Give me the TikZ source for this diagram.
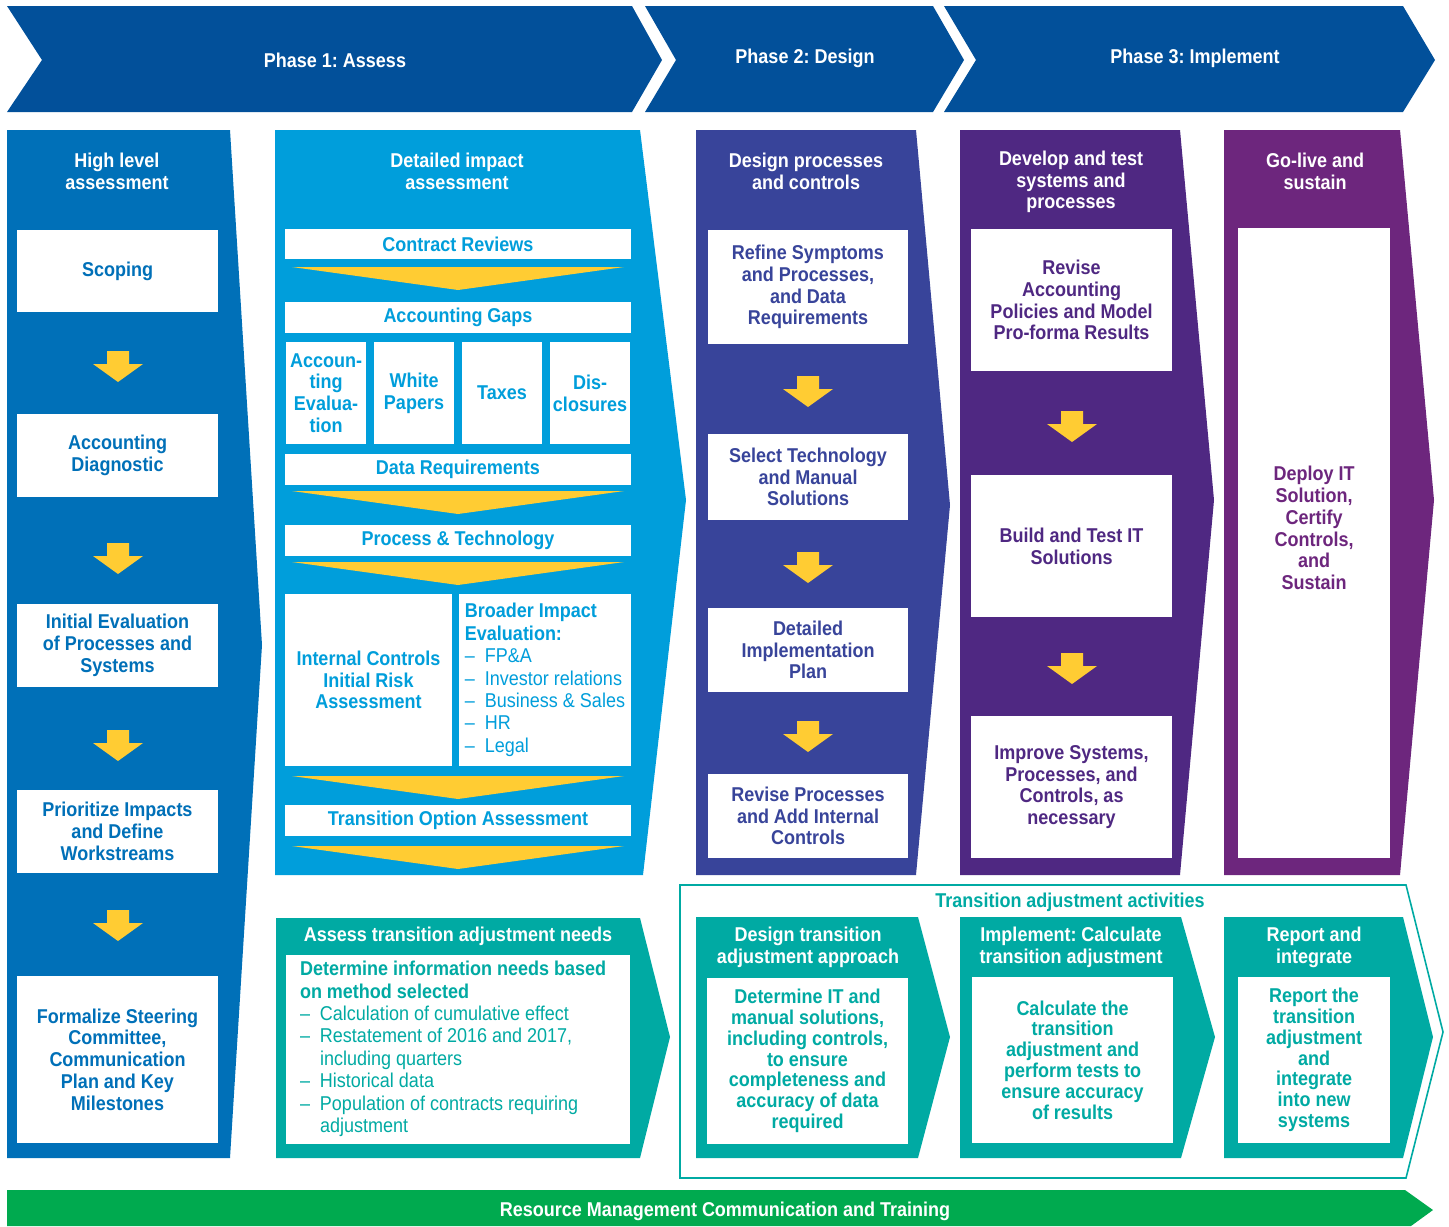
\documentclass[tikz,border=0pt]{standalone}
\usepackage{xcolor}
\usepackage{fontspec}
\setmainfont{Liberation Sans}[FakeStretch=0.9]
\usepackage{tikz}
\usetikzlibrary{positioning, shapes, calc}
\definecolor{phaseblue}{RGB}{2,80,154}
\definecolor{hlblue}{RGB}{0,112,184}
\definecolor{dtblue}{RGB}{0,158,219}
\definecolor{dsindigo}{RGB}{56,68,154}
\definecolor{dvpurple}{RGB}{79,40,130}
\definecolor{glpurple}{RGB}{109,38,125}
\definecolor{taqteal}{RGB}{0,170,163}
\definecolor{resgreen}{RGB}{0,170,79}
\definecolor{arrowyellow}{RGB}{255,204,51}
\newcommand{\dashit}{\makebox[10pt][l]{--}}
\frenchspacing

\begin{document}
\begin{tikzpicture}[x=0.5pt, y=-0.5pt,
	every node/.style={font=\fontsize{10}{10.9}\selectfont\bfseries, inner sep=0pt},
	sz/.style 2 args={minimum width=#1*0.5pt, minimum height=#2*0.5pt},
	headtxt/.style={text=white, align=center},
	wbox/.style={fill=white, align=center},
	c1box/.style={wbox, text=hlblue},
	c2box/.style={wbox, text=dtblue},
	c3box/.style={wbox, text=dsindigo},
	c4box/.style={wbox, text=dvpurple},
	c5box/.style={wbox, text=glpurple},
	tbox/.style={wbox, text=taqteal, font=\fontsize{10}{10.4}\selectfont\bfseries},
	listbox/.style={align=left, font=\fontsize{10}{11.2}\selectfont\bfseries},
	dnarrow/.pic={\fill[arrowyellow] (-11,0) -- (11,0) -- (11,13) -- (25,13) -- (0,31) -- (-25,13) -- (-11,13) -- cycle;},
	wedge/.pic={\fill[arrowyellow] (-166,0) -- (166,0) -- (0,23) -- cycle;}]
	\useasboundingbox (0,0) rectangle (1449,1226);

	% phases
	\fill[phaseblue] (7,6) -- (632,6) -- (662,60) -- (632,112) -- (7,112) -- (42,60) -- cycle;
	\fill[phaseblue] (645,6) -- (933,6) -- (964,60) -- (933,112) -- (645,112) -- (676,60) -- cycle;
	\fill[phaseblue] (944,6) -- (1403,6) -- (1435,60) -- (1403,112) -- (944,112) -- (976,60) -- cycle;
	\node[headtxt] (ph1) at (335,60) {Phase 1: Assess};
	\node[headtxt] (ph2) at (805,58) {Phase 2: Design};
	\node[headtxt] (ph3) at (1195,58) {Phase 3: Implement};

	% columns
	\fill[hlblue] (7,130) -- (230,130) -- (262,645) -- (230,1158) -- (7,1158) -- cycle;
	\fill[dtblue] (275,130) -- (640,130) -- (686,500) -- (643,875) -- (275,875) -- cycle;
	\fill[dsindigo] (696,130) -- (916,130) -- (950,505) -- (916,875) -- (696,875) -- cycle;
	\fill[dvpurple] (960,130) -- (1180,130) -- (1214,500) -- (1180,875) -- (960,875) -- cycle;
	\fill[glpurple] (1224,130) -- (1400,130) -- (1434,500) -- (1400,875) -- (1224,875) -- cycle;

	% high level assessment
	\node[headtxt] (hla) at (117,171) {High level\\assessment};
	\node[c1box, sz={201}{82}] (scoping) at (117.5,271) {Scoping};
	\node[c1box, sz={201}{83}] (diag) at (117.5,455.5) {Accounting\\Diagnostic};
	\node[c1box, sz={201}{83}] (initeval) at (117.5,645.5) {Initial Evaluation\\of Processes and\\Systems};
	\node[c1box, sz={201}{83}] (prior) at (117.5,831.5) {Prioritize Impacts\\and Define\\Workstreams};
	\node[c1box, sz={201}{167}] (formal) at (117.5,1059.5) {Formalize Steering\\Committee,\\Communication\\Plan and Key\\Milestones};
	\foreach \yy in {351,543,730,910} \pic at (118,\yy) {dnarrow};

	% detailed impact assessment
	\node[headtxt] (dia) at (457,171) {Detailed impact\\assessment};
	\node[c2box, sz={346}{30}] (contract) at (458,244) {Contract Reviews};
	\node[c2box, sz={346}{31}] (gaps) at (458,317.5) {Accounting Gaps};
	\node[c2box, sz={80}{102}] (acceval) at (326,393) {Accoun-\\ting\\Evalua-\\tion};
	\node[c2box, sz={80}{102}] (white) at (414,393) {White\\Papers};
	\node[c2box, sz={80}{102}] (taxes) at (502,393) {Taxes};
	\node[c2box, sz={80}{102}] (discl) at (590,393) {Dis-\\closures};
	\node[c2box, sz={346}{31}] (datareq) at (458,469.5) {Data Requirements};
	\node[c2box, sz={346}{31}] (proctech) at (458,540.5) {Process \& Technology};
	\node[c2box, sz={167}{172}] (intctrl) at (368.5,680) {Internal Controls\\Initial Risk\\Assessment};
	\node[c2box, listbox, sz={172}{172}] (broader) at (545,680) {Broader Impact\\Evaluation:\\\mdseries\dashit FP\&A\\\mdseries\dashit Investor relations\\\mdseries\dashit Business \& Sales\\\mdseries\dashit HR\\\mdseries\dashit Legal};
	\node[c2box, sz={346}{31}] (transopt) at (458,820.5) {Transition Option Assessment};
	\foreach \yy in {267,491,562,776,846} \pic at (458,\yy) {wedge};

	% design processes and controls
	\node[headtxt] (dpc) at (806,171) {Design processes\\and controls};
	\node[c3box, sz={200}{114}] (refine) at (808,287) {Refine Symptoms\\and Processes,\\and Data\\Requirements};
	\node[c3box, sz={200}{86}] (select) at (808,477) {Select Technology\\and Manual\\Solutions};
	\node[c3box, sz={200}{84}] (detplan) at (808,650) {Detailed\\Implementation\\Plan};
	\node[c3box, sz={200}{84}] (revproc) at (808,816) {Revise Processes\\and Add Internal\\Controls};
	\foreach \yy in {376,552,721} \pic at (808,\yy) {dnarrow};

	% develop and test
	\node[headtxt] (dts) at (1071,182) {Develop and test\\systems and\\processes};
	\node[c4box, sz={201}{142}] (revacc) at (1071.5,300) {Revise\\Accounting\\Policies and Model\\Pro-forma Results};
	\node[c4box, sz={201}{142}] (build) at (1071.5,546) {Build and Test IT\\Solutions};
	\node[c4box, sz={201}{142}] (improve) at (1071.5,787) {Improve Systems,\\Processes, and\\Controls, as\\necessary};
	\foreach \yy in {411,653} \pic at (1072,\yy) {dnarrow};

	% go-live
	\node[headtxt] (gls) at (1315,171) {Go-live and\\sustain};
	\node[c5box, sz={152}{630}, text depth=15pt] (deploy) at (1314,543) {Deploy IT\\Solution,\\Certify\\Controls,\\and\\Sustain};

	% transition adjustment
	\fill[taqteal] (276,918) -- (640,918) -- (670,1037) -- (640,1158) -- (276,1158) -- cycle;
	\node[headtxt] (atn) at (458,936) {Assess transition adjustment needs};
	\node[wbox, listbox, align=flush left, text=taqteal, sz={344}{189}, text width=158pt] (needs) at (458,1049) {Determine information needs based\\on method selected\\\mdseries\dashit Calculation of cumulative effect\\\mdseries\dashit Restatement of 2016 and 2017,\\\mdseries\hspace*{10pt}including quarters\\\mdseries\dashit Historical data\\\mdseries\dashit Population of contracts requiring\\\mdseries\hspace*{10pt}adjustment};

	\draw[taqteal, line width=0.8pt] (680,885) -- (1406,885) -- (1443,1032) -- (1406,1178) -- (680,1178) -- cycle;
	\node[text=taqteal] (taa) at (1070,902) {Transition adjustment activities};
	\fill[taqteal] (696,917) -- (918,917) -- (950,1037) -- (918,1158) -- (696,1158) -- cycle;
	\fill[taqteal] (960,917) -- (1181,917) -- (1215,1037) -- (1181,1158) -- (960,1158) -- cycle;
	\fill[taqteal] (1224,917) -- (1403,917) -- (1433,1037) -- (1403,1158) -- (1224,1158) -- cycle;
	\node[headtxt] (dta) at (808,947) {Design transition\\adjustment approach};
	\node[headtxt] (ica) at (1071,947) {Implement: Calculate\\transition adjustment};
	\node[headtxt] (rai) at (1314,947) {Report and\\integrate};
	\node[tbox, sz={201}{166}] (detit) at (807.5,1061) {Determine IT and\\manual solutions,\\including controls,\\to ensure\\completeness and\\accuracy of data\\required};
	\node[tbox, sz={201}{166}] (calc) at (1072.5,1060) {Calculate the\\transition\\adjustment and\\perform tests to\\ensure accuracy\\of results};
	\node[tbox, sz={152}{166}] (report) at (1314,1060) {Report the\\transition\\adjustment\\and\\integrate\\into new\\systems};

	% resource bar
	\fill[resgreen] (7,1190) -- (1405,1190) -- (1433,1210) -- (1411,1226) -- (7,1226) -- cycle;
	\node[headtxt] (rmct) at (725,1211) {Resource Management Communication and Training};
\end{tikzpicture}
\end{document}
